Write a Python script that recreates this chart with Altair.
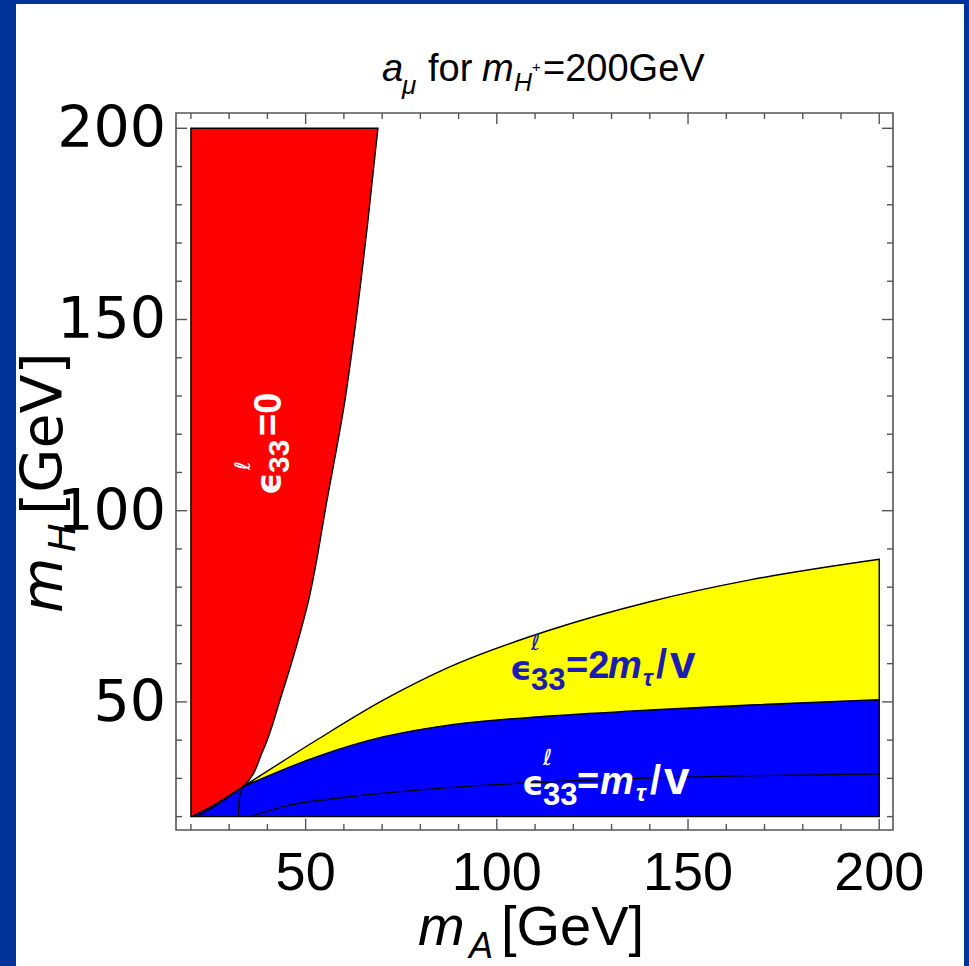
import altair as alt
import pandas as pd

# ---------------- data ----------------
X_DOMAIN = [16.1, 203.6]
Y_DOMAIN = [16.5, 204.0]

# red region (eps_33 = 0): for each m_H, m_A runs from 20 to the right edge
red_mh = [20, 23.5, 27.8, 37.4, 50.5, 76.7, 102.8, 129, 150, 175, 200]
red_ma_right = [20.3, 26.8, 33.6, 38.9, 43.3, 50.8, 55.6, 60.3, 63.2, 66.2, 68.9]
red_ma_left = [20] * len(red_mh)

# blue (eps_33 = m_tau/v) and yellow (eps_33 = 2 m_tau/v) bands, functions of m_A
blue_left_ma = [20.3, 26.8]
blue_left_top = [20.0, 23.5]
band_ma = [33.6, 53, 70.4, 87.8, 113.9, 140, 166.2, 200]
blue_top = [27.8, 35.7, 40.9, 44.0, 46.3, 47.9, 49.2, 50.6]
yellow_top = [27.8, 40.1, 50.5, 59.2, 68.8, 76.2, 81.9, 87.3]

# contour line inside the blue band
mtau_ma = [35.5, 45, 61.7, 87.8, 131.4, 200]
mtau_mh = [20, 22.8, 25.2, 27.6, 29.8, 31.1]
# small contour pieces near the corner
inner_a_ma = [32.45, 32.45, 33.2, 33.6]
inner_a_mh = [20, 24.4, 27.0, 27.8]
inner_b_ma = [21.6, 27.0, 33.6]
inner_b_mh = [20, 23.2, 27.8]

tick_minor = [20, 30, 40, 60, 70, 80, 90, 110, 120, 130, 140, 160, 170, 180, 190]
tick_major = [50, 100, 150, 200]
x_labels = [50, 100, 150, 200]
y_labels = [50, 100, 150, 200]

# ---------------- layout ----------------
W = H = 717
PAD_L, PAD_T = 176, 113
PAD_R, PAD_B = 969 - PAD_L - W, 966 - PAD_T - H
FRAME = "#555555"
XF = "Liberation Sans"
YF = "DejaVu Sans"

xs = alt.Scale(domain=X_DOMAIN, nice=False, zero=False)
ys = alt.Scale(domain=Y_DOMAIN, nice=False, zero=False)


def X(f):
    return alt.X(f, type="quantitative", scale=xs, axis=None)


def Y(f):
    return alt.Y(f, type="quantitative", scale=ys, axis=None)


def txt(s, cx, cy, size, color="black", font=XF, style="normal", weight="normal",
        angle=0, align="left", baseline="alphabetic"):
    df = pd.DataFrame({"t": [s]})
    kw = dict(fontSize=size, color=color, font=font, fontStyle=style,
              fontWeight=weight, align=align, baseline=baseline)
    if angle:
        kw["angle"] = angle
    return alt.Chart(df).mark_text(**kw).encode(
        text="t:N", x=alt.value(cx - PAD_L), y=alt.value(cy - PAD_T))


layers = []

# white panel inside the blue frame
panel = alt.Chart(pd.DataFrame({"a": [0]})).mark_rect(color="white").encode(
    x=alt.value(16 - PAD_L), x2=alt.value(964 - PAD_L),
    y=alt.value(4 - PAD_T), y2=alt.value(966 - PAD_T))
layers.append(panel)

red_df = pd.DataFrame({"mH": red_mh, "a0": red_ma_left, "a1": red_ma_right})
layers.append(alt.Chart(red_df).mark_area(orient="horizontal", fill="#ff0000", stroke="black",
                                          strokeWidth=1.4, interpolate="monotone").encode(
    y=Y("mH"), x=X("a0"), x2="a1"))

blue_df = pd.DataFrame({"mA": blue_left_ma + band_ma,
                        "lo": [20.0] * (len(blue_left_ma) + len(band_ma)),
                        "hi": blue_left_top + blue_top})
layers.append(alt.Chart(blue_df).mark_area(fill="#0000ff", stroke="black", strokeWidth=1.4,
                                           interpolate="monotone").encode(
    x=X("mA"), y=Y("lo"), y2="hi"))

yel_df = pd.DataFrame({"mA": band_ma, "lo": blue_top, "hi": yellow_top})
layers.append(alt.Chart(yel_df).mark_area(fill="#ffff00", stroke="black", strokeWidth=1.4,
                                          interpolate="monotone").encode(
    x=X("mA"), y=Y("lo"), y2="hi"))

for ma, mh in [(mtau_ma, mtau_mh), (inner_b_ma, inner_b_mh)]:
    df = pd.DataFrame({"mA": ma, "mH": mh, "i": list(range(len(ma)))})
    layers.append(alt.Chart(df).mark_line(color="black", strokeWidth=1.3,
                                          interpolate="monotone").encode(
        x=X("mA"), y=Y("mH"), order="i:Q"))
df = pd.DataFrame({"mA": inner_a_ma, "mH": inner_a_mh, "i": list(range(len(inner_a_ma)))})
layers.append(alt.Chart(df).mark_line(color="black", strokeWidth=1.3, interpolate="basis").encode(
    x=X("mA"), y=Y("mH"), order="i:Q"))

# frame
layers.append(alt.Chart(pd.DataFrame({"a": [0]})).mark_rect(
    fill="transparent", stroke=FRAME, strokeWidth=1.6).encode(
    x=alt.value(0), x2=alt.value(W), y=alt.value(0), y2=alt.value(H)))

# inward ticks on all four sides
for vals, ln in [(tick_minor, 6), (tick_major, 11)]:
    df = pd.DataFrame({"v": vals})
    layers.append(alt.Chart(df).mark_rule(color=FRAME, strokeWidth=1.4).encode(
        x=X("v"), y=alt.value(H), y2=alt.value(H - ln)))
    layers.append(alt.Chart(df).mark_rule(color=FRAME, strokeWidth=1.4).encode(
        x=X("v"), y=alt.value(0), y2=alt.value(ln)))
    layers.append(alt.Chart(df).mark_rule(color=FRAME, strokeWidth=1.4).encode(
        y=Y("v"), x=alt.value(0), x2=alt.value(ln)))
    layers.append(alt.Chart(df).mark_rule(color=FRAME, strokeWidth=1.4).encode(
        y=Y("v"), x=alt.value(W), x2=alt.value(W - ln)))

# tick labels
layers.append(alt.Chart(pd.DataFrame({"v": x_labels})).mark_text(
    font=XF, fontSize=54, align="center", baseline="alphabetic").encode(
    x=X("v"), y=alt.value(890 - PAD_T), text="v:N"))
layers.append(alt.Chart(pd.DataFrame({"v": y_labels})).mark_text(
    font=YF, fontSize=57, align="right", baseline="middle", dy=2).encode(
    y=Y("v"), x=alt.value(166 - PAD_L), text="v:N"))

# title: a_mu for m_{H+}=200GeV
layers += [
    txt("a", 382, 81, 38, style="italic"),
    txt("μ", 402, 94, 26, style="italic"),
    txt("for", 428, 81, 38),
    txt("m", 482, 81, 38, style="italic"),
    txt("H", 514, 91, 25, style="italic"),
    txt("+", 532, 72, 15),
    txt("=200GeV", 543, 81, 38),
]

# x axis title m_A[GeV]
layers += [
    txt("m", 418, 945, 56, style="italic"),
    txt("A", 469, 958, 36, style="italic"),
    txt("[GeV]", 501, 945, 56),
]
# y axis title m_H[GeV] (rotated)
layers += [
    txt("m", 62, 613, 57, font=YF, style="italic", angle=270),
    txt("H", 75, 552, 38, font=YF, style="italic", angle=270),
    txt("[GeV]", 62, 515, 57, font=YF, angle=270),
]

# in-plot labels
W_ = "white"
layers += [
    # eps_33 = 0 (rotated, white)
    txt("ϵ", 281, 495, 35, color=W_, font=YF, weight="bold", angle=270),
    txt("33", 289, 473, 30, color=W_, weight="bold", angle=270),
    txt("ℓ", 250, 470, 21, color=W_, font=YF, style="italic", angle=270),
    txt("=0", 281, 436, 38, color=W_, weight="bold", angle=270),
]
B_ = "#1c1cb0"
layers += [
    txt("ϵ", 510, 680, 34, color=B_, font=YF, weight="bold"),
    txt("33", 531, 690, 31, color=B_, weight="bold"),
    txt("ℓ", 531, 650, 22, color=B_, font=YF, style="italic"),
    txt("=2", 566, 678, 38, color=B_, weight="bold"),
    txt("m", 608, 678, 38, color=B_, weight="bold", style="italic"),
    txt("τ", 643, 686, 24, color=B_, weight="bold", style="italic"),
    txt("/", 656, 678, 40, color=B_, weight="bold"),
    txt("v", 670, 678, 46, color=B_, weight="bold"),
]
layers += [
    txt("ϵ", 522, 795, 34, color=W_, font=YF, weight="bold"),
    txt("33", 543, 805, 31, color=W_, weight="bold"),
    txt("ℓ", 543, 765, 22, color=W_, font=YF, style="italic"),
    txt("=", 577, 794, 38, color=W_, weight="bold"),
    txt("m", 600, 794, 38, color=W_, weight="bold", style="italic"),
    txt("τ", 636, 801, 24, color=W_, weight="bold", style="italic"),
    txt("/", 650, 794, 40, color=W_, weight="bold"),
    txt("v", 664, 794, 46, color=W_, weight="bold"),
]

chart = alt.layer(*layers).properties(
    width=W, height=H,
    autosize=alt.AutoSizeParams(type="none"),
    padding={"left": PAD_L, "top": PAD_T, "right": PAD_R, "bottom": PAD_B},
    background="#003399",
).configure_view(strokeWidth=0)

chart.save("out.html", embed_options={"renderer": "svg", "actions": False})
